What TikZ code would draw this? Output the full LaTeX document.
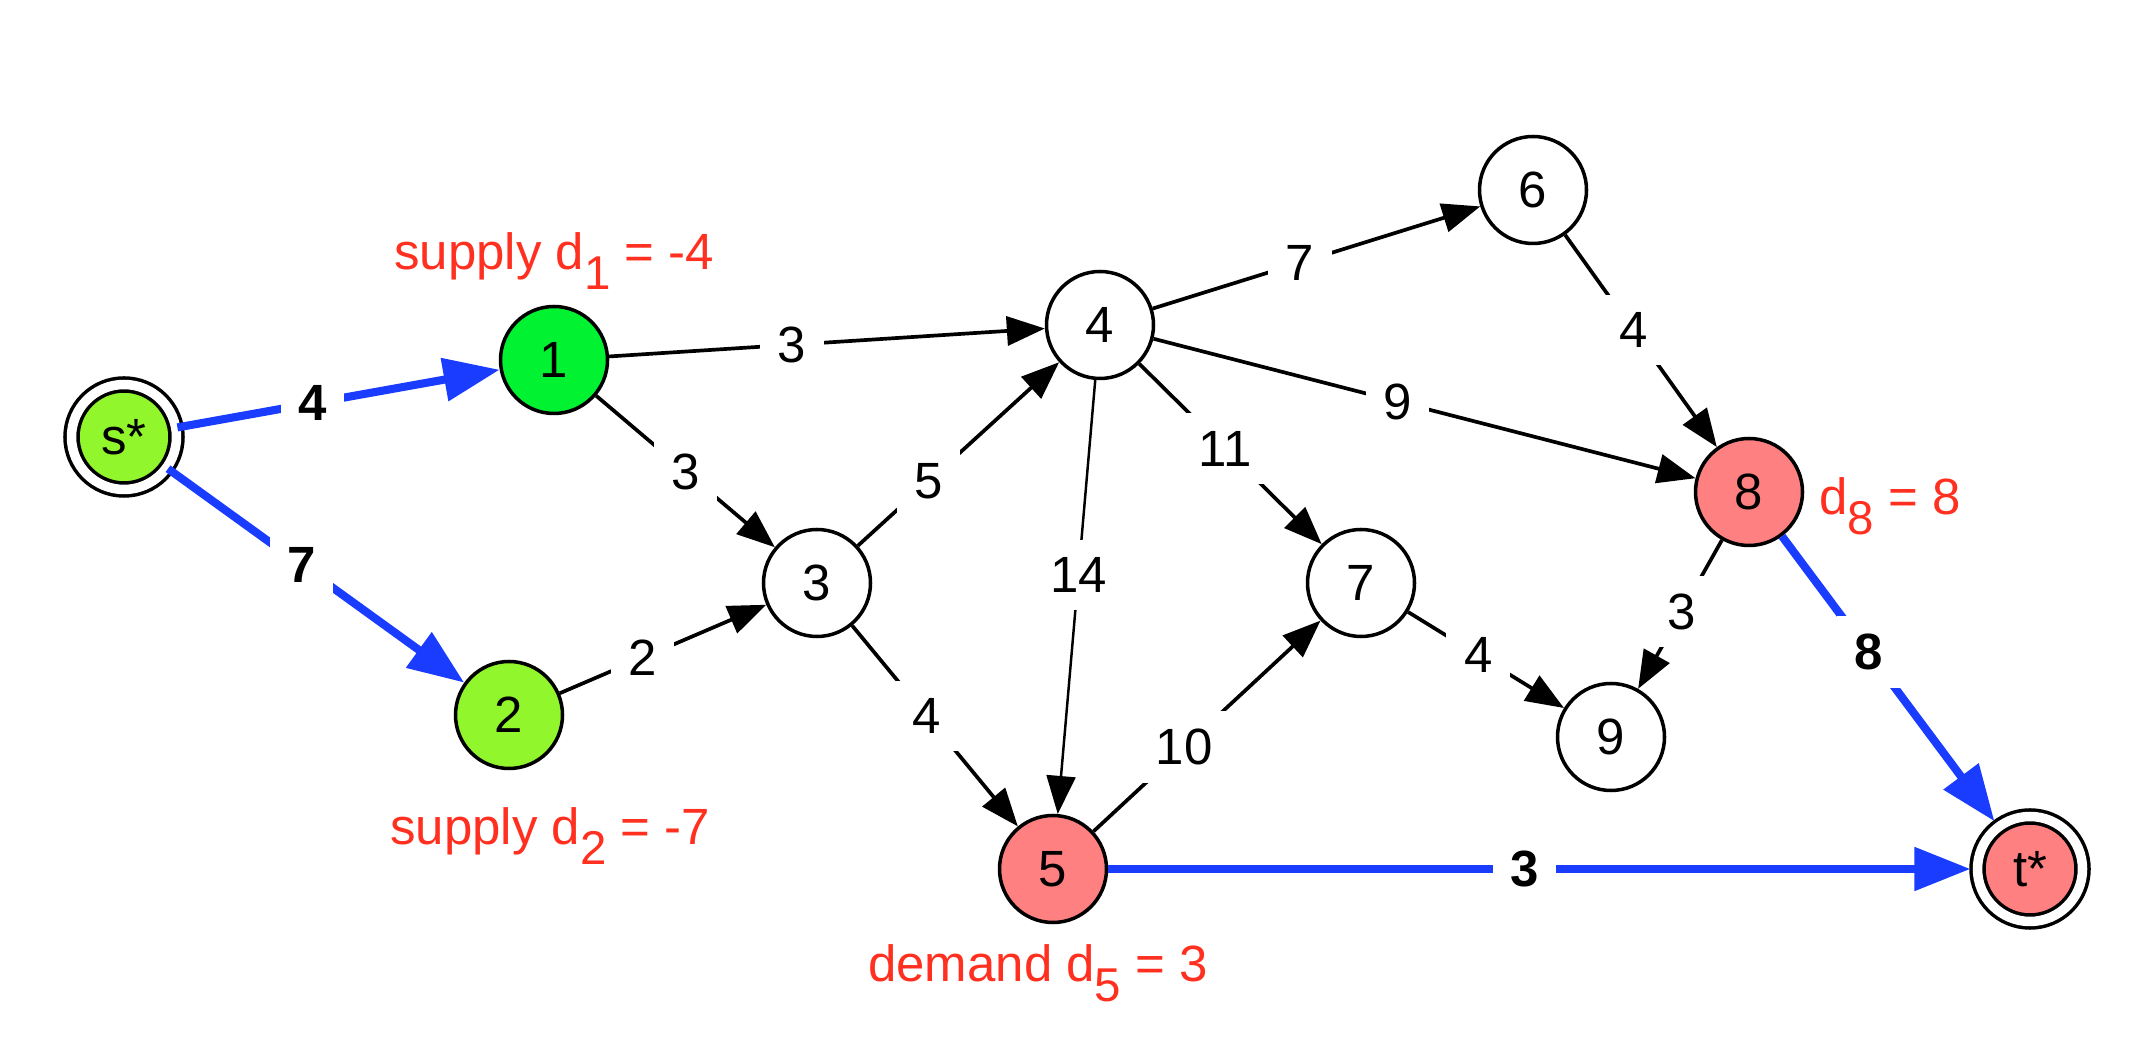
\documentclass[tikz,border=0pt]{standalone}
\usepackage{fontspec}
\setmainfont{Liberation Sans}
\usepackage{tikz}
\usetikzlibrary{arrows.meta}
\definecolor{supplygreen}{RGB}{0,242,48}
\definecolor{lightsupply}{RGB}{146,246,44}
\definecolor{demandred}{RGB}{255,128,128}
\definecolor{flowblue}{RGB}{26,60,255}
\definecolor{labelred}{RGB}{255,48,32}
\newcommand{\dsub}[1]{d\raisebox{-0.4em}{\fontsize{13.5}{14}\selectfont #1}}

\begin{document}
\begin{tikzpicture}[x=1cm,y=1cm,
    vertex/.style={circle,draw,line width=1pt,minimum size=1.07cm,inner sep=0pt,font=\fontsize{14.5}{17}\selectfont},
    terminal/.style={vertex,double,double distance=2.7pt,minimum size=1.05cm},
    arc/.style={line width=1.05pt,-{Triangle[length=0.38cm,width=0.29cm]}},
    flow/.style={line width=2.3pt,flowblue,-{Triangle[length=0.56cm,width=0.42cm]}},
    weight/.style={fill=white,inner sep=5pt,text=black,font=\fontsize{14.5}{17}\selectfont},
    flowweight/.style={weight,font=\fontsize{14.5}{17}\selectfont\bfseries},
    note/.style={text=labelred,font=\fontsize{14.5}{17}\selectfont}]
  \useasboundingbox (0,0) rectangle (21.56,10.48);
  % vertices
  \node[terminal,fill=lightsupply] (s) at (1.24,6.11) {s*};
  \node[vertex,fill=supplygreen] (v1) at (5.54,6.88) {1};
  \node[vertex,fill=lightsupply] (v2) at (5.09,3.33) {2};
  \node[vertex] (v3) at (8.17,4.65) {3};
  \node[vertex] (v4) at (11.00,7.23) {4};
  \node[vertex,fill=demandred] (v5) at (10.53,1.79) {5};
  \node[vertex] (v6) at (15.33,8.58) {6};
  \node[vertex] (v7) at (13.61,4.65) {7};
  \node[vertex,fill=demandred] (v8) at (17.49,5.56) {8};
  \node[vertex] (v9) at (16.11,3.11) {9};
  \node[terminal,fill=demandred] (t) at (20.30,1.79) {t*};
  % supplies and demands
  \node[note] (n1) at (5.54,7.87) {supply \dsub{1} = -4};
  \node[note] (n2) at (5.50,2.12) {supply \dsub{2} = -7};
  \node[note] (n5) at (10.38,0.75) {demand \dsub{5} = 3};
  \node[note] (n8) at (18.90,5.42) {\dsub{8} = 8};
  % arcs
  \draw[arc] (v1) -- node[weight,pos=0.42] {3} (v4);
  \draw[arc] (v1) -- node[weight,pos=0.5] {3} (v3);
  \draw[arc] (v2) -- node[weight,pos=0.4] {2} (v3);
  \draw[arc] (v3) -- node[weight,pos=0.35] {5} (v4);
  \draw[arc] (v3) -- node[weight,pos=0.45] {4} (v5);
  \draw[arc,line width=0.7pt] (v4) -- node[weight,pos=0.45] {14} (v5);
  \draw[arc] (v4) -- node[weight,pos=0.45] {7} (v6);
  \draw[arc] (v4) -- node[weight,pos=0.47] {11} (v7);
  \draw[arc] (v4) -- node[weight,pos=0.45] {9} (v8);
  \draw[arc] (v5) -- node[weight,pos=0.4] {10} (v7);
  \draw[arc] (v6) -- node[weight,pos=0.45] {4} (v8);
  \draw[arc] (v7) -- node[weight,pos=0.45] {4} (v9);
  \draw[arc] (v8) -- node[weight,pos=0.48] {3} (v9);
  % flows from s* and into t*
  \draw[flow] (s) -- node[flowweight,pos=0.42] {4} (v1);
  \draw[flow] (s) -- node[flowweight,pos=0.45] {7} (v2);
  \draw[flow,shorten >=1.5pt] (v8) -- node[flowweight,pos=0.4] {8} (t);
  \draw[flow,shorten >=1.5pt] (v5) -- node[flowweight,pos=0.48] {3} (t);
\end{tikzpicture}
\end{document}
